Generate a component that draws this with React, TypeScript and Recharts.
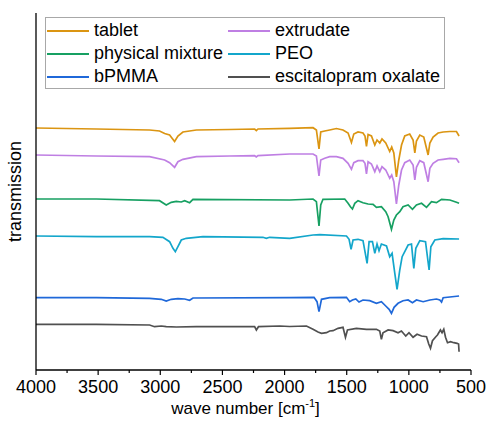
import { LineChart, Line, XAxis, YAxis, Legend } from 'recharts';

// IR spectra, offset transmission (a.u.) vs wave number (cm-1)
const tablet: [number, number][] = [
  [4000, 242], [3515, 241], [3086, 240], [3006, 239], [2965, 236.5], [2925, 235], [2885, 228.5],
  [2858, 234], [2818, 238], [2710, 240], [2442, 240.5], [2241, 241], [2227, 239.5], [2214, 241],
  [1959, 241.7], [1771, 242.3], [1744, 240], [1723, 221], [1709, 238], [1677, 239], [1637, 240],
  [1583, 241.5], [1530, 240], [1489, 237], [1462, 227.5], [1443, 236], [1409, 238], [1369, 237],
  [1353, 234], [1341, 223.5], [1328, 235.5], [1301, 234], [1274, 225], [1256, 230], [1234, 227],
  [1216, 231], [1186, 227], [1154, 218.5], [1138, 223], [1121, 217], [1100, 193], [1081, 210],
  [1059, 225], [1033, 234], [993, 236], [966, 230], [952, 217], [939, 229], [912, 235], [880, 233],
  [845, 215], [831, 227], [805, 233], [765, 237], [724, 238], [670, 238.5], [617, 238.5], [596, 234],
];

const extrudate: [number, number][] = [
  [4000, 215], [3515, 214], [3086, 213.3], [2965, 210], [2925, 207.3], [2885, 202.7], [2858, 208.3],
  [2818, 210.7], [2710, 213.3], [2442, 214], [2241, 214.3], [2227, 213], [2214, 214.3], [1959, 216],
  [1771, 216], [1744, 214], [1723, 194], [1709, 210], [1677, 211.7], [1637, 213.3], [1583, 213.3],
  [1530, 211.7], [1489, 206.7], [1462, 200.7], [1443, 207.3], [1409, 209.3], [1369, 209.3],
  [1353, 206.7], [1341, 196], [1328, 208.3], [1301, 206], [1274, 198.3], [1256, 204], [1234, 198.3],
  [1216, 203.3], [1186, 200], [1154, 191.7], [1138, 195], [1121, 188.3], [1100, 166], [1081, 185],
  [1059, 200], [1033, 207.3], [993, 210], [966, 205], [952, 190], [939, 202.7], [912, 209.3],
  [880, 207.3], [845, 188.3], [831, 201.7], [805, 206.7], [765, 210], [724, 210.7], [670, 211.7],
  [617, 211.3], [596, 207.3],
];

const physicalMixture: [number, number][] = [
  [4000, 171], [3515, 171], [3006, 169.3], [2952, 165], [2912, 167.7], [2871, 168.7], [2831, 168],
  [2804, 169.3], [2764, 167.3], [2737, 170.7], [1959, 170], [1771, 171], [1744, 168.3], [1723, 144],
  [1709, 165], [1691, 170.7], [1516, 171], [1489, 166.7], [1470, 163.3], [1454, 161], [1435, 166.7],
  [1409, 169.3], [1369, 167.3], [1328, 166], [1288, 165.7], [1261, 162.7], [1221, 163.3],
  [1186, 158.3], [1167, 153.3], [1140, 140.7], [1121, 150], [1100, 155], [1073, 158.3],
  [1047, 163.3], [1006, 165], [971, 160.7], [939, 165], [898, 166.7], [858, 162.7], [818, 168.3],
  [778, 167.3], [737, 170.7], [670, 170], [617, 167.7], [596, 166.7],
];

const peo: [number, number][] = [
  [4000, 134], [3515, 133.3], [3086, 133.3], [2979, 132.7], [2925, 128.3], [2898, 121.7],
  [2879, 118.3], [2858, 123.3], [2831, 130], [2791, 131.7], [2657, 133.3], [2174, 132.7],
  [2147, 131.7], [2120, 132.7], [1959, 131.7], [1771, 135], [1717, 135.3], [1502, 134],
  [1481, 130.7], [1465, 120.7], [1449, 130], [1409, 130.7], [1369, 129.3], [1353, 118.3],
  [1336, 106.7], [1320, 128.3], [1293, 128.3], [1274, 116.7], [1256, 126], [1240, 119.3],
  [1221, 126], [1180, 124], [1154, 113.3], [1135, 116.7], [1113, 96.7], [1095, 80.7], [1073, 100],
  [1054, 113.3], [1033, 118.3], [1006, 125], [979, 126], [960, 101.7], [944, 121.7], [912, 129.3],
  [866, 128.3], [837, 100], [823, 123.3], [791, 130], [724, 131.3], [596, 131],
];

const bpmma: [number, number][] = [
  [4000, 72.3], [3515, 72.3], [3086, 71.7], [2992, 70.7], [2952, 69], [2912, 70.7], [2858, 71.3],
  [2804, 71], [2764, 69.7], [2737, 72], [1959, 72.3], [1763, 72.7], [1739, 68.3], [1723, 58.3],
  [1703, 70.7], [1637, 72.3], [1502, 72.7], [1476, 68.3], [1454, 70], [1427, 71], [1401, 68],
  [1369, 70], [1315, 69.3], [1261, 66.7], [1221, 68.3], [1186, 64], [1159, 60.7], [1140, 56.7],
  [1119, 62.7], [1087, 66.7], [1047, 69.3], [1006, 70], [971, 67.3], [939, 70], [885, 68.3],
  [831, 70], [778, 71], [751, 70], [737, 68], [724, 72.3], [596, 74],
];

const escitalopram: [number, number][] = [
  [4000, 45.7], [3515, 45.7], [3086, 45], [3046, 43.3], [2992, 44], [2952, 43.3], [2871, 43],
  [2710, 43.3], [2241, 43.3], [2227, 40], [2210, 43.3], [2039, 44], [1959, 43.5], [1824, 44],
  [1771, 40.7], [1731, 38], [1703, 36.7], [1663, 37.3], [1637, 39], [1610, 39.3], [1570, 41.7],
  [1530, 42.7], [1510, 32.7], [1494, 40], [1422, 41.7], [1341, 40.7], [1261, 40.7], [1234, 39],
  [1221, 30.7], [1208, 37.3], [1167, 40], [1127, 39.3], [1087, 37.3], [1060, 39], [1025, 34],
  [999, 37.3], [966, 32.7], [934, 35.7], [898, 34], [858, 33.3], [840, 26], [826, 21.7],
  [810, 29.3], [783, 33.3], [770, 35], [746, 40], [733, 37.3], [719, 40.7], [705, 32.7],
  [689, 27.3], [665, 28.3], [638, 27.3], [612, 26.7], [600, 26], [596, 18.3],
];

const majorTicks = [4000, 3500, 3000, 2500, 2000, 1500, 1000, 500];
const minorTicks = [3750, 3250, 2750, 2250, 1750, 1250, 750];

const FONT = '"Liberation Sans", Arial, sans-serif';
const WIDTH = 489;
const HEIGHT = 431;
const TICK_SIZE = 5;
const TICK_MARGIN = 4;

const toRows = (pts: [number, number][]) => pts.map(([wn, t]) => ({ wn, t }));

const series = [
  { name: 'tablet', color: '#DB9512', data: toRows(tablet) },
  { name: 'extrudate', color: '#BF7FE3', data: toRows(extrudate) },
  { name: 'physical mixture', color: '#17A062', data: toRows(physicalMixture) },
  { name: 'PEO', color: '#13A6CB', data: toRows(peo) },
  { name: 'bPMMA', color: '#1F68D9', data: toRows(bpmma) },
  { name: 'escitalopram oxalate', color: '#505050', data: toRows(escitalopram) },
];

function WaveTick(props: any) {
  const { x, y, payload } = props;
  const axisY = y - TICK_SIZE - TICK_MARGIN;
  const isMajor = majorTicks.includes(payload.value);
  return (
    <g>
      <line x1={x} x2={x} y1={axisY} y2={axisY + (isMajor ? 5 : 3)} stroke="#000" strokeWidth={1.2} />
      {isMajor && (
        <text x={x} y={y} dy="0.75em" textAnchor="middle" fontSize={18} fontFamily={FONT} fill="#000">
          {payload.value}
        </text>
      )}
    </g>
  );
}

function XLabel(props: any) {
  const { viewBox } = props;
  const cx = viewBox.x + viewBox.width / 2 - 8;
  return (
    <text x={cx} y={viewBox.y + 44} textAnchor="middle" fontSize={17} fontFamily={FONT} fill="#000">
      wave number [cm<tspan dy={-7} fontSize={11}>-1</tspan><tspan dy={7}>]</tspan>
    </text>
  );
}

function SpectraLegend() {
  return (
    <div
      style={{
        border: '1px solid #a8a8a8',
        width: 397,
        height: 69,
        boxSizing: 'content-box',
        display: 'grid',
        gridTemplateColumns: '181px 1fr',
        gridAutoRows: '23px',
        paddingTop: 1,
        paddingLeft: 1,
        fontFamily: FONT,
        fontSize: 18,
        color: '#000',
        background: '#fff',
      }}
    >
      {series.map((s) => (
        <div key={s.name} style={{ display: 'flex', alignItems: 'center', whiteSpace: 'nowrap' }}>
          <svg width={42} height={4} style={{ marginRight: 5, flex: 'none' }}>
            <line x1={0} x2={42} y1={2} y2={2} stroke={s.color} strokeWidth={2} />
          </svg>
          <span>{s.name}</span>
        </div>
      ))}
    </div>
  );
}

export default function App() {
  return (
    <div>
      <style>{'body { margin: 0; }'}</style>
      <LineChart width={WIDTH} height={HEIGHT} margin={{ top: 13, right: 18, bottom: 0, left: 0 }}>
        <XAxis
          dataKey="wn"
          type="number"
          domain={[500, 4000]}
          reversed
          ticks={[...majorTicks, ...minorTicks].sort((a, b) => b - a)}
          interval={0}
          tickSize={TICK_SIZE}
          tickMargin={TICK_MARGIN}
          tickLine={false}
          tick={<WaveTick />}
          height={61}
          axisLine={{ stroke: '#000', strokeWidth: 1.3 }}
          allowDuplicatedCategory={false}
          label={<XLabel />}
        />
        <YAxis
          type="number"
          domain={[0, 357]}
          tick={false}
          tickLine={false}
          width={36}
          axisLine={{ stroke: '#000', strokeWidth: 1.3 }}
          label={{
            value: 'transmission',
            angle: -90,
            position: 'insideLeft',
            offset: 15,
            style: { textAnchor: 'middle', fontSize: 18, fontFamily: FONT, fill: '#000' },
          }}
        />
        <Legend
          layout="vertical"
          align="center"
          verticalAlign="middle"
          content={<SpectraLegend />}
          wrapperStyle={{ left: 45, top: 17, width: 'auto', height: 'auto' }}
        />
        {series.map((s) => (
          <Line
            key={s.name}
            data={s.data}
            dataKey="t"
            name={s.name}
            type="linear"
            stroke={s.color}
            strokeWidth={1.7}
            dot={false}
            activeDot={false}
            isAnimationActive={false}
          />
        ))}
      </LineChart>
    </div>
  );
}
